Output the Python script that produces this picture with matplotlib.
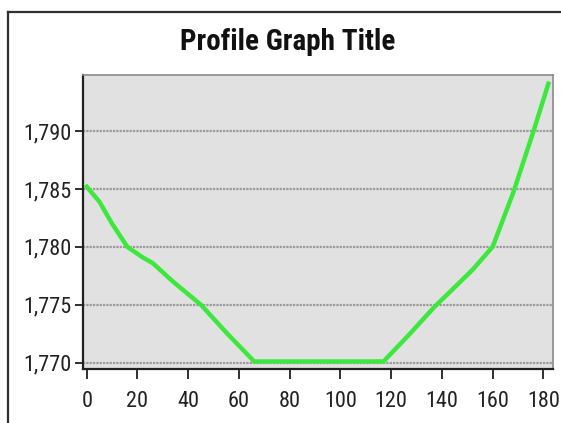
import matplotlib
matplotlib.use("Agg")
import matplotlib.pyplot as plt
from matplotlib import font_manager as fm
from matplotlib.lines import Line2D
from matplotlib.ticker import FuncFormatter

# ---- data ----
distance = [0, 5, 10, 16, 22, 26, 34, 45, 55, 66, 80, 100, 117, 127, 137, 145, 152, 160, 168, 176, 182]
elevation = [1785.2, 1783.9, 1782.0, 1780.0, 1779.1, 1778.6, 1777.0, 1775.0, 1772.6, 1770.1,
             1770.1, 1770.1, 1770.1, 1772.4, 1774.8, 1776.5, 1778.0, 1780.0, 1784.6, 1789.9, 1794.1]
x_ticks = [0, 20, 40, 60, 80, 100, 120, 140, 160, 180]
y_ticks = [1770, 1775, 1780, 1785, 1790]
title = "Profile Graph Title"

names = {f.name for f in fm.fontManager.ttflist}
fam = "Liberation Sans"
for cand in ("Liberation Sans Narrow", "Arial Narrow", "Roboto Condensed"):
    if cand in names:
        fam = cand
        break
narrow = fam != "Liberation Sans"
plt.rcParams["font.family"] = [fam, "DejaVu Sans"]

tick_size = 16 if narrow else 14.5
title_size = 21 if narrow else 19

fig = plt.figure(figsize=(5.61, 4.23), dpi=100)
fig.patch.set_facecolor("white")

# outer frame (left and top edges visible)
fig.add_artist(Line2D([7.5 / 561, 7.5 / 561], [0, 1 - 12.5 / 423], transform=fig.transFigure,
                      color="#303030", lw=1.6))
fig.add_artist(Line2D([7.5 / 561, 1.0], [1 - 12.5 / 423, 1 - 12.5 / 423], transform=fig.transFigure,
                      color="#303030", lw=1.6))

ax = fig.add_axes([82.7 / 561, 1 - 369 / 423, (552.7 - 82.7) / 561, (369 - 75) / 423])
ax.set_facecolor("#e1e1e1")

ax.plot(distance, elevation, color="#3de83d", lw=3.2, solid_joinstyle="round", zorder=3)

ax.set_xlim(-1.6, 183.7)
ax.set_ylim(1769.45, 1794.85)
ax.set_xticks(x_ticks)
ax.set_yticks(y_ticks)
ax.yaxis.set_major_formatter(FuncFormatter(lambda v, p: f"{int(round(v)):,}"))

ax.grid(axis="y", color="#9a9a9a", lw=1.6, linestyle=(0, (1, 0.5)), zorder=1)
ax.grid(axis="x", visible=False)

for side in ("left", "bottom"):
    ax.spines[side].set_color("#202020")
    ax.spines[side].set_linewidth(1.6)
for side in ("top", "right"):
    ax.spines[side].set_color("#8a8a8a")
    ax.spines[side].set_linewidth(1.2)

ax.tick_params(axis="y", direction="out", length=5.5, width=1.3, color="#202020",
               pad=2.5, labelsize=tick_size, labelcolor="#222222")
ax.tick_params(axis="x", direction="out", length=7, width=1.3, color="#202020",
               pad=9, labelsize=tick_size, labelcolor="#222222")

fig.text(287.8 / 561, 1 - 50 / 423, title, ha="center", va="baseline",
         fontsize=title_size, fontweight="bold", color="#111111")

fig.savefig("out.png", dpi=100)
